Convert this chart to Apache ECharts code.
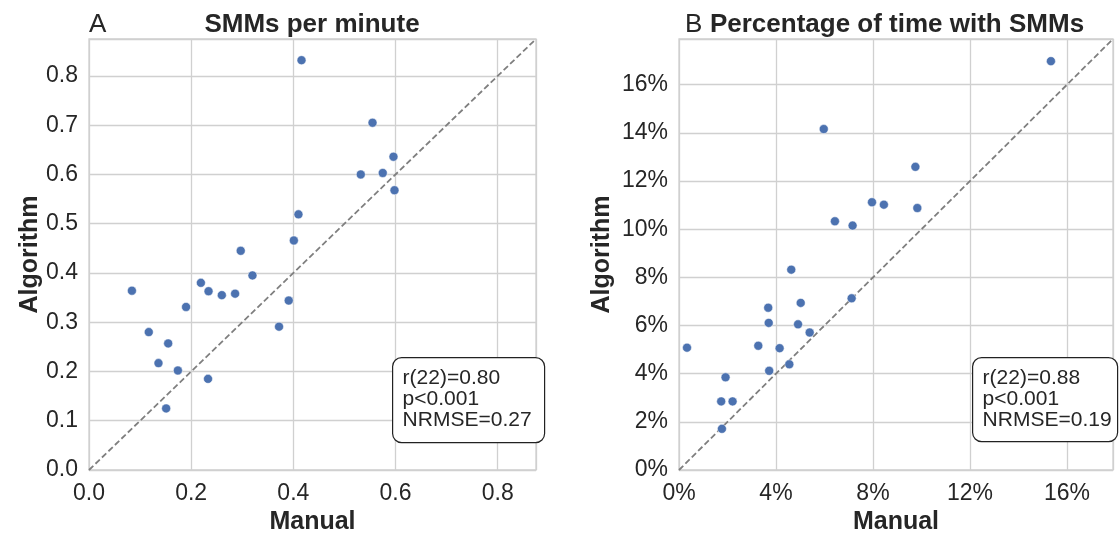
<!DOCTYPE html>
<html>
<head>
<meta charset="utf-8">
<title>SMMs manual vs algorithm</title>
<script src="https://cdn.jsdelivr.net/npm/echarts@6/dist/echarts.min.js"></script>
<style>
  html, body { margin: 0; padding: 0; background: #fff; }
  #main { width: 1119px; height: 533px; }
</style>
</head>
<body>
<div id="main"></div>
<script>
// panel A: SMMs per minute
var manualA = [0.416, 0.532, 0.410, 0.401, 0.297, 0.320, 0.084, 0.219, 0.234, 0.260, 0.286, 0.391,
               0.190, 0.372, 0.117, 0.155, 0.136, 0.174, 0.233, 0.151, 0.555, 0.596, 0.575, 0.598];
var algoA   = [0.832, 0.600, 0.519, 0.466, 0.445, 0.395, 0.364, 0.380, 0.363, 0.355, 0.358, 0.344,
               0.331, 0.291, 0.280, 0.257, 0.217, 0.202, 0.185, 0.125, 0.705, 0.636, 0.603, 0.568];
// panel B: percentage of time with SMMs (%)
var manualB = [4.63, 5.97, 6.43, 7.16, 7.96, 8.45, 9.75, 9.83, 15.34, 5.02, 7.12, 3.68,
               3.70, 4.91, 5.39, 0.33, 3.27, 4.15, 4.55, 3.72, 1.92, 1.74, 2.21, 1.77];
var algoB   = [8.32, 14.16, 10.33, 10.15, 11.12, 11.02, 12.59, 10.88, 16.98, 6.94, 7.13, 6.74,
               6.11, 6.05, 5.71, 5.08, 5.16, 5.06, 4.39, 4.12, 3.85, 2.85, 2.85, 1.71];

var statsA = ['r(22)=0.80', 'p<0.001', 'NRMSE=0.27'];
var statsB = ['r(22)=0.88', 'p<0.001', 'NRMSE=0.19'];

var maxA = 0.875, maxB = 17.9;

var FONT = '"Liberation Sans", Arial, sans-serif';
var TXT = '#262626';
var GRIDC = '#d0d0d0';
var BLUE = '#4c72b0';

function pairs(xs, ys) {
  return xs.map(function (x, i) { return [x, ys[i]]; });
}

function axis(idx, max, step, fmt, isY) {
  return {
    type: 'value', gridIndex: idx, min: 0, max: max, interval: step,
    name: isY ? 'Algorithm' : 'Manual',
    nameLocation: 'middle',
    nameGap: isY ? (idx === 0 ? 45 : 64) : 37,
    nameTextStyle: { fontFamily: FONT, fontSize: 25, fontWeight: 'bold', color: TXT },
    axisLine: { show: false },
    axisTick: { show: false },
    axisLabel: { fontFamily: FONT, fontSize: 23, color: TXT, margin: isY ? 11 : 12, formatter: fmt, showMaxLabel: false },
    splitLine: { show: true, lineStyle: { color: GRIDC, width: 1.3 } }
  };
}

var fmtA = function (v) { return v.toFixed(1); };
var fmtB = function (v) { return Math.round(v) + '%'; };

// stats box, drawn on top of the grid lines
function statBox(x, y, w, h, lines) {
  return {
    type: 'group', left: x, top: y, z: 100,
    children: [
      { type: 'rect', z: 100, shape: { x: 0, y: 0, width: w, height: h, r: 9 },
        style: { fill: '#fff', stroke: '#222', lineWidth: 1.2 } },
      { type: 'text', z: 101, x: 10, y: 10,
        style: { text: lines.join('\n'), fontFamily: FONT, fontSize: 21, lineHeight: 21, fill: TXT } }
    ]
  };
}

var chart = echarts.init(document.getElementById('main'));

var gridBase = { top: 39, height: 431, show: true, borderColor: GRIDC, borderWidth: 1.3,
                 containLabel: false, outerBoundsMode: 'none' };

var option = {
  animation: false,
  grid: [
    Object.assign({ left: 89, width: 447 }, gridBase),
    Object.assign({ left: 679, width: 434 }, gridBase)
  ],
  xAxis: [axis(0, maxA, 0.2, fmtA, false), axis(1, maxB, 4, fmtB, false)],
  yAxis: [axis(0, maxA, 0.1, fmtA, true), axis(1, maxB, 2, fmtB, true)],
  series: [
    { type: 'line', xAxisIndex: 0, yAxisIndex: 0, data: [[0, 0], [maxA, maxA]], symbol: 'none',
      lineStyle: { color: '#7f7f7f', width: 1.8, type: [6, 3] }, z: 2 },
    { type: 'line', xAxisIndex: 1, yAxisIndex: 1, data: [[0, 0], [maxB, maxB]], symbol: 'none',
      lineStyle: { color: '#7f7f7f', width: 1.8, type: [6, 3] }, z: 2 },
    { type: 'scatter', xAxisIndex: 0, yAxisIndex: 0, data: pairs(manualA, algoA), symbolSize: 9,
      itemStyle: { color: BLUE, opacity: 1, borderColor: '#fff', borderWidth: 0.5 }, z: 3 },
    { type: 'scatter', xAxisIndex: 1, yAxisIndex: 1, data: pairs(manualB, algoB), symbolSize: 9,
      itemStyle: { color: BLUE, opacity: 1, borderColor: '#fff', borderWidth: 0.5 }, z: 3 }
  ],
  graphic: [
    { type: 'text', x: 89, y: 25, style: { text: 'A', fontFamily: FONT, fontSize: 26, fill: TXT, verticalAlign: 'middle' } },
    { type: 'text', x: 312, y: 25, style: { text: 'SMMs per minute', fontFamily: FONT, fontSize: 26, fontWeight: 'bold', fill: TXT, align: 'center', verticalAlign: 'middle' } },
    { type: 'text', x: 685, y: 25, style: { text: 'B', fontFamily: FONT, fontSize: 26, fill: TXT, verticalAlign: 'middle' } },
    { type: 'text', x: 897, y: 25, style: { text: 'Percentage of time with SMMs', fontFamily: FONT, fontSize: 26, fontWeight: 'bold', fill: TXT, align: 'center', verticalAlign: 'middle' } },
    statBox(392, 357, 152, 85, statsA),
    statBox(972, 357, 145, 84, statsB)
  ]
};

chart.setOption(option);
</script>
</body>
</html>
